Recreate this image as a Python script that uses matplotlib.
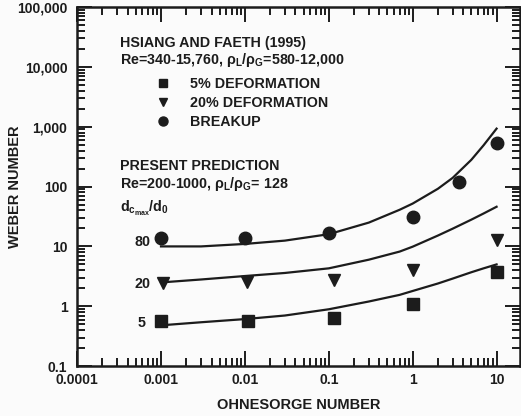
import numpy as np
import matplotlib.pyplot as plt
from matplotlib.lines import Line2D
from matplotlib.ticker import LogLocator, NullFormatter

plt.rcParams['font.family'] = ['Liberation Sans', 'DejaVu Sans']
plt.rcParams['font.weight'] = 'bold'
plt.rcParams['mathtext.fontset'] = 'custom'
plt.rcParams['mathtext.rm'] = 'Liberation Sans:bold'
plt.rcParams['mathtext.it'] = 'Liberation Sans:bold'
plt.rcParams['mathtext.bf'] = 'Liberation Sans:bold'

ink = '#1c1c1c'

# Hsiang and Faeth (1995) data
oh_def5 = [0.001, 0.011, 0.115, 1.0, 10.0]
we_def5 = [0.56, 0.57, 0.63, 1.07, 3.8]
oh_def20 = [0.00105, 0.0105, 0.115, 1.0, 10.0]
we_def20 = [2.4, 2.5, 2.7, 4.1, 13.0]
oh_brk = [0.001, 0.01, 0.1, 1.0, 3.6, 10.0]
we_brk = [14.0, 14.0, 16.5, 31.0, 120.0, 540.0]

# present prediction curves (dcmax/d0 = 80, 20, 5)
oh_curve = [0.001, 0.003, 0.01, 0.03, 0.1, 0.3, 0.7, 1.0, 2.0, 3.0, 5.0, 7.0, 10.0]
we_80 = [10.0, 10.0, 11.0, 12.5, 16.0, 25.0, 41.0, 52.0, 92.0, 140.0, 280.0, 490.0, 930.0]
we_20 = [2.5, 2.8, 3.2, 3.6, 4.3, 6.0, 8.2, 9.9, 15.2, 19.8, 28.0, 35.5, 46.0]
we_5 = [0.48, 0.54, 0.61, 0.7, 0.89, 1.2, 1.55, 1.8, 2.4, 2.9, 3.7, 4.3, 5.0]

fig = plt.figure(figsize=(5.21, 4.16), dpi=100)
fig.patch.set_facecolor('#fbfbfb')
ax = fig.add_axes([0.148, 0.12, 0.85, 0.863])
ax.set_facecolor('#fbfbfb')

ax.plot(oh_curve, we_80, color=ink, lw=1.6)
ax.plot(oh_curve, we_20, color=ink, lw=1.6)
ax.plot(oh_curve, we_5, color=ink, lw=1.6)

ax.plot(oh_def5, we_def5, 's', color=ink, ms=8, ls='none')
ax.plot(oh_def20, we_def20, 'v', color=ink, ms=8, ls='none')
ax.plot(oh_brk, we_brk, 'o', color=ink, ms=9, ls='none')

ax.set_xscale('log')
ax.set_yscale('log')
ax.set_xlim(0.0001, 19)
ax.set_ylim(0.1, 100000)

xt = [0.0001, 0.001, 0.01, 0.1, 1, 10]
xtl = ['0.0001', '0.001', '0.01', '0.1', '1', '10']
yt = [0.1, 1, 10, 100, 1000, 10000, 100000]
ytl = ['0.1', '1', '10', '100', '1,000', '10,000', '100,000']
ax.set_xticks(xt)
ax.set_xticklabels(xtl)
ax.set_yticks(yt)
ax.set_yticklabels(ytl)
ax.xaxis.set_minor_locator(LogLocator(base=10, subs=np.arange(2, 10), numticks=20))
ax.yaxis.set_minor_locator(LogLocator(base=10, subs=np.arange(2, 10), numticks=20))
ax.xaxis.set_minor_formatter(NullFormatter())
ax.yaxis.set_minor_formatter(NullFormatter())

ax.tick_params(which='both', direction='in', top=True, right=True, colors=ink,
               width=1.4, labelsize=10)
ax.tick_params(which='major', length=11)
ax.tick_params(which='minor', length=6)
ax.tick_params(axis='y', which='major', pad=7)
ax.tick_params(axis='x', which='major', pad=5)
for s in ax.spines.values():
    s.set_linewidth(1.8)
    s.set_color(ink)

ax.set_xlabel('OHNESORGE NUMBER', fontsize=10.5, fontweight='bold', color=ink, labelpad=8)
ax.set_ylabel('WEBER NUMBER', fontsize=10.5, fontweight='bold', color=ink)
ax.yaxis.set_label_coords(-0.125, 0.5)

tk = dict(transform=ax.transAxes, fontsize=10.3, fontweight='bold', color=ink, va='center', ha='left')
ax.text(0.097, 0.9, 'HSIANG AND FAETH (1995)', **tk)
ax.text(0.097, 0.852, r'Re=340-15,760, $\rho_L/\rho_G$=580-12,000', **tk)
ax.text(0.097, 0.556, 'PRESENT PREDICTION', **tk)
ax.text(0.097, 0.506, r'Re=200-1000, $\rho_L/\rho_G$= 128', **tk)
ax.text(0.097, 0.44, r'$d_{c_{max}}/d_0$', **tk)
ax.text(0.13, 0.345, '80', **tk)
ax.text(0.13, 0.228, '20', **tk)
ax.text(0.136, 0.12, '5', **tk)

handles = [Line2D([], [], marker='s', color=ink, ls='none', ms=6),
           Line2D([], [], marker='v', color=ink, ls='none', ms=6),
           Line2D([], [], marker='o', color=ink, ls='none', ms=6.5)]
labels = ['5% DEFORMATION', '20% DEFORMATION', 'BREAKUP']
leg = ax.legend(handles, labels, loc='upper left', bbox_to_anchor=(0.165, 0.82),
                frameon=False, handlelength=1.0, handletextpad=1.4,
                labelspacing=0.33, borderaxespad=0, prop={'size': 10.3, 'weight': 'bold'})
for t in leg.get_texts():
    t.set_color(ink)

fig.savefig('out.png', dpi=100, facecolor=fig.get_facecolor())
